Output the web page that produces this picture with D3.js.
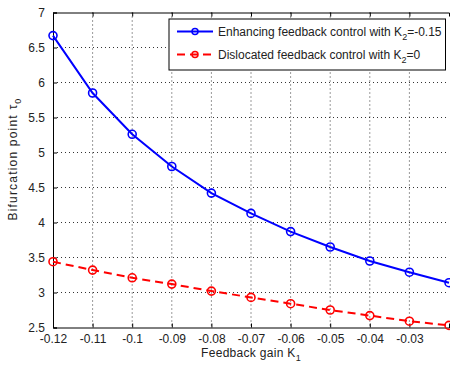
<!DOCTYPE html>
<html><head><meta charset="utf-8">
<script src="https://cdn.jsdelivr.net/npm/d3@7"></script>
<style>
html,body{margin:0;padding:0;background:#fff;}
svg{display:block;font-family:"Liberation Sans",Arial,sans-serif;}
</style></head>
<body>
<svg id="chart" width="450" height="366"></svg>
<script>
// Feedback gain K1 values
const gains = [-0.12, -0.11, -0.10, -0.09, -0.08, -0.07, -0.06, -0.05, -0.04, -0.03, -0.02];
// Bifurcation point tau0, enhancing control (K2 = -0.15)
const enhancing = [6.67, 5.85, 5.26, 4.80, 4.42, 4.13, 3.87, 3.65, 3.45, 3.29, 3.14];
// Bifurcation point tau0, dislocated control (K2 = 0)
const dislocated = [3.44, 3.32, 3.21, 3.12, 3.02, 2.93, 2.84, 2.75, 2.67, 2.59, 2.53];
const xTicks = [-0.12, -0.11, -0.10, -0.09, -0.08, -0.07, -0.06, -0.05, -0.04, -0.03];
const xTickLabels = ["-0.12", "-0.11", "-0.1", "-0.09", "-0.08", "-0.07", "-0.06", "-0.05", "-0.04", "-0.03"];
const yTicks = [2.5, 3, 3.5, 4, 4.5, 5, 5.5, 6, 6.5, 7];

const svg = d3.select("#chart");
const m = {left: 53, right: 449, top: 12.5, bottom: 327.5};
const x = d3.scaleLinear().domain([-0.12, -0.02]).range([m.left, m.right]);
const y = d3.scaleLinear().domain([2.5, 7]).range([m.bottom, m.top]);

// dotted grid
const grid = svg.append("g");
grid.selectAll("line.gx").data(xTicks.slice(1)).join("line")
  .attr("x1", d => x(d)).attr("x2", d => x(d))
  .attr("y1", m.top).attr("y2", m.bottom)
  .attr("stroke", "#000").attr("stroke-width", 0.8).attr("stroke-dasharray", "1,3");
grid.selectAll("line.gy").data(yTicks.slice(1, -1)).join("line")
  .attr("y1", d => y(d)).attr("y2", d => y(d))
  .attr("x1", m.left).attr("x2", m.right)
  .attr("stroke", "#000").attr("stroke-width", 0.8).attr("stroke-dasharray", "1,3");

// axes with inward ticks
const xAxis = d3.axisBottom(x).tickValues(xTicks).tickSize(-4).tickPadding(7)
  .tickFormat((d, i) => xTickLabels[i]);
const gx = svg.append("g").attr("transform", `translate(0,${m.bottom})`).call(xAxis);
const yAxis = d3.axisLeft(y).tickValues(yTicks).tickSize(-4).tickPadding(8)
  .tickFormat(d3.format("~g"));
const gy = svg.append("g").attr("transform", `translate(${m.left},0)`).call(yAxis);
const gxt = svg.append("g").attr("transform", `translate(0,${m.top})`)
  .call(d3.axisTop(x).tickValues(xTicks).tickSize(-4).tickFormat(""));
[gx, gy, gxt].forEach(g => {
  g.select(".domain").attr("stroke", "#000").attr("stroke-width", 1);
  g.selectAll(".tick line").attr("stroke", "#000");
  g.selectAll("text").attr("font-size", 12).attr("fill", "#222")
    .attr("font-family", '"Liberation Sans",Arial,sans-serif');
});

// series
const line = d3.line().x((d, i) => x(gains[i])).y(d => y(d));
function drawSeries(vals, color, dash) {
  svg.append("path").datum(vals).attr("d", line)
    .attr("fill", "none").attr("stroke", color).attr("stroke-width", 2)
    .attr("stroke-dasharray", dash);
  svg.append("g").selectAll("circle").data(vals).join("circle")
    .attr("cx", (d, i) => x(gains[i])).attr("cy", d => y(d)).attr("r", 4)
    .attr("fill", "none").attr("stroke", color).attr("stroke-width", 1.6);
}
drawSeries(enhancing, "#0000ff", null);
drawSeries(dislocated, "#ff0000", "8,5");

// legend
const lg = svg.append("g");
lg.append("rect").attr("x", 169).attr("y", 19).attr("width", 276.5).attr("height", 51)
  .attr("fill", "#fff").attr("stroke", "#000").attr("stroke-width", 1);
const entries = [
  {color: "#0000ff", dash: null, base: "Enhancing feedback control with K", tail: "=-0.15", cy: 31.5},
  {color: "#ff0000", dash: "8,5", base: "Dislocated feedback control with K", tail: "=0", cy: 54.5}
];
entries.forEach(e => {
  lg.append("line").attr("x1", 177).attr("x2", 213).attr("y1", e.cy).attr("y2", e.cy)
    .attr("stroke", e.color).attr("stroke-width", 2).attr("stroke-dasharray", e.dash);
  lg.append("circle").attr("cx", 195).attr("cy", e.cy).attr("r", 3)
    .attr("fill", "none").attr("stroke", e.color).attr("stroke-width", 1.5);
  const t = lg.append("text").attr("x", 218).attr("y", e.cy + 4.5)
    .attr("font-size", 12).attr("fill", "#222");
  t.append("tspan").text(e.base);
  t.append("tspan").attr("font-size", 9).attr("dy", 4).text("2");
  t.append("tspan").attr("dy", -4).text(e.tail);
});

// axis titles
const xt = svg.append("text").attr("x", 251).attr("y", 357).attr("text-anchor", "middle")
  .attr("font-size", 12).attr("fill", "#222").attr("letter-spacing", 0.3);
xt.append("tspan").text("Feedback gain K");
xt.append("tspan").attr("font-size", 9).attr("dy", 4).text("1");

const yt = svg.append("text").attr("transform", "translate(17,159) rotate(-90)")
  .attr("text-anchor", "middle").attr("font-size", 12).attr("fill", "#222")
  .attr("letter-spacing", 1.2);
yt.append("tspan").text("Bifurcation point \u03c4");
yt.append("tspan").attr("font-size", 9).attr("dy", 4).text("0");
</script>
</body></html>
